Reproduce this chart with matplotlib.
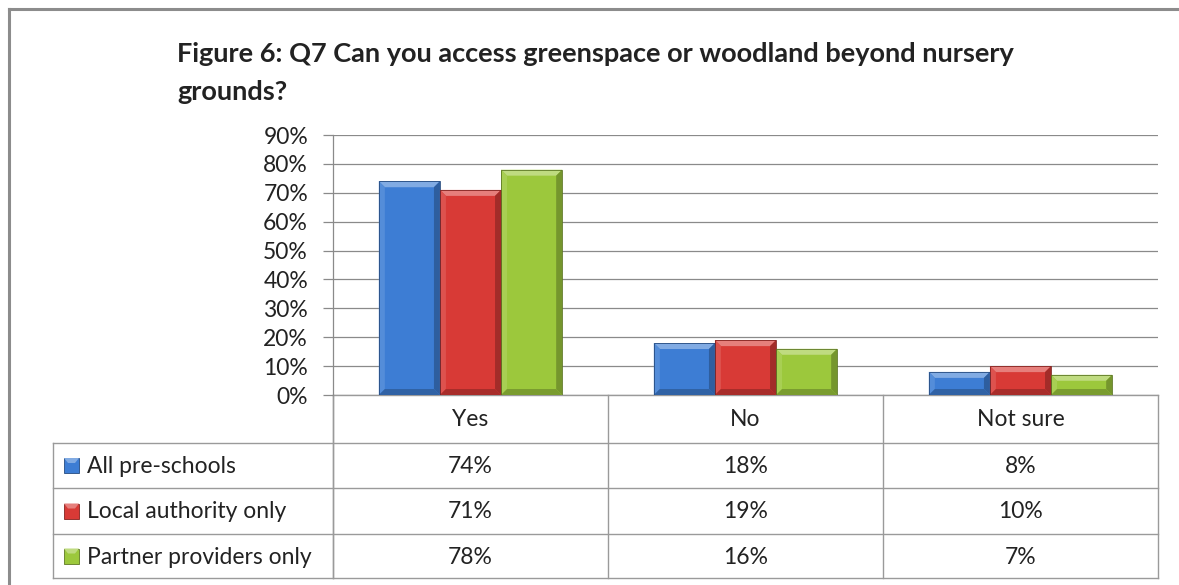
import numpy as np
import matplotlib

matplotlib.use("Agg")
import matplotlib.pyplot as plt
from matplotlib.patches import Polygon, Rectangle
from matplotlib.ticker import FuncFormatter

categories = ["Yes", "No", "Not sure"]
series_names = ["All pre-schools", "Local authority only", "Partner providers only"]
all_preschools = [74, 18, 8]
local_authority = [71, 19, 10]
partner_providers = [78, 16, 7]
series_colors = ["#3d7dd4", "#d83a36", "#9cc83c"]
y_ticks = [0, 10, 20, 30, 40, 50, 60, 70, 80, 90]
title = "Figure 6: Q7 Can you access greenspace or woodland beyond nursery\ngrounds?"

W, H = 1179, 585
FONT = "Lato"
TEXT = "#222222"
GRID = "#8a8a8a"
FS = 16.5


def mix(color, other, amount):
    c = np.array(matplotlib.colors.to_rgb(color))
    o = np.array(matplotlib.colors.to_rgb(other))
    return tuple(c * (1 - amount) + o * amount)


def px_box(x0, y0, x1, y1):
    # pixel box (top-left origin) -> figure fraction rect
    return [x0 / W, 1 - y1 / H, (x1 - x0) / W, (y1 - y0) / H]


def bevel_bar(ax, x0, x1, top, color, dx, dy):
    ax.add_patch(Rectangle((x0, 0), x1 - x0, top, facecolor=color, edgecolor="none", zorder=3))
    d_y = min(dy, top / 3)
    faces = [
        ([(x0, top), (x1, top), (x1 - dx, top - d_y), (x0 + dx, top - d_y)], mix(color, "white", 0.35)),
        ([(x0, 0), (x0, top), (x0 + dx, top - d_y), (x0 + dx, d_y)], mix(color, "white", 0.12)),
        ([(x1, 0), (x1, top), (x1 - dx, top - d_y), (x1 - dx, d_y)], mix(color, "black", 0.25)),
        ([(x0, 0), (x1, 0), (x1 - dx, d_y), (x0 + dx, d_y)], mix(color, "black", 0.22)),
    ]
    for pts, fc in faces:
        ax.add_patch(Polygon(pts, closed=True, facecolor=fc, edgecolor="none", zorder=4))
    ax.add_patch(Rectangle((x0, 0), x1 - x0, top, facecolor="none",
                           edgecolor=mix(color, "black", 0.4), linewidth=0.6, zorder=5))


def main():
    fig = plt.figure(figsize=(W / 100, H / 100), dpi=100)
    fig.patch.set_facecolor("white")

    # outer chart frame, running off the right and bottom edges
    frame = fig.add_axes([0, 0, 1, 1])
    frame.set_xlim(0, W)
    frame.set_ylim(H, 0)
    frame.axis("off")
    frame.plot([9, W + 5], [9, 9], color="#8c8c8c", lw=2.2)
    frame.plot([9, 9], [9, H + 5], color="#8c8c8c", lw=2.2)

    fig.text(177 / W, 1 - 42 / H, title, ha="left", va="top", fontsize=19.5,
             fontweight="bold", family=FONT, color=TEXT, linespacing=1.7)

    left, right, y_zero, y_top = 333, 1158, 395, 135
    ax = fig.add_axes(px_box(left, y_top, right, y_zero))
    ax.set_xlim(-0.5, len(categories) - 0.5)
    ax.set_ylim(0, 90)
    ax.set_yticks(y_ticks)
    ax.yaxis.set_major_formatter(FuncFormatter(lambda v, _: f"{v:.0f}%"))
    ax.tick_params(axis="y", length=7, width=0.9, color=GRID, pad=11, labelsize=FS, labelcolor=TEXT)
    ax.set_xticks([])
    for lbl in ax.get_yticklabels():
        lbl.set_family(FONT)
    ax.grid(axis="y", color=GRID, lw=0.9, zorder=0)
    for side in ["top", "right", "bottom"]:
        ax.spines[side].set_visible(False)
    ax.spines["left"].set_color(GRID)
    ax.spines["left"].set_linewidth(0.9)
    ax.set_facecolor("none")

    values = [all_preschools, local_authority, partner_providers]
    bar_w = 1.0 / (len(series_names) + 1.5)
    dx = 6 * (len(categories) / (right - left))
    dy = 6 * (90 / (y_zero - y_top))
    x = np.arange(len(categories))
    for i, (vals, color) in enumerate(zip(values, series_colors)):
        for xc, v in zip(x, vals):
            x0 = xc - 1.5 * bar_w + i * bar_w
            bevel_bar(ax, x0, x0 + bar_w, v, color, dx, dy)

    # data table under the plot
    col_w = (right - left) / len(categories)
    rows = [395, 443, 488, 534, 578]
    tl = 53
    lc = "#9a9a9a"
    frame.plot([left, right], [rows[0], rows[0]], color=lc, lw=1)
    for r in rows[1:]:
        frame.plot([tl, right], [r, r], color=lc, lw=1)
    frame.plot([tl, tl], [rows[1], rows[-1]], color=lc, lw=1)
    for k in range(len(categories) + 1):
        xk = left + k * col_w
        frame.plot([xk, xk], [rows[0], rows[-1]], color=lc, lw=1)
    frame.plot([left, left], [y_zero, rows[-1]], color=lc, lw=1)

    for k, cat in enumerate(categories):
        frame.text(left + (k + 0.5) * col_w, (rows[0] + rows[1]) / 2 + 1, cat, ha="center",
                   va="center", fontsize=FS, family=FONT, color=TEXT)
    for j, (name, vals, color) in enumerate(zip(series_names, values, series_colors)):
        yc = (rows[j + 1] + rows[j + 2]) / 2
        kx, ks = 64, 15
        frame.add_patch(Rectangle((kx, yc - ks / 2), ks, ks, facecolor=color,
                                  edgecolor=mix(color, "black", 0.4), lw=0.6))
        frame.add_patch(Polygon([(kx, yc - ks / 2), (kx + ks, yc - ks / 2),
                                 (kx + ks - 4, yc - ks / 2 + 5), (kx + 4, yc - ks / 2 + 5)],
                                closed=True, facecolor=mix(color, "white", 0.35), edgecolor="none"))
        frame.text(87, yc + 1, name, ha="left", va="center", fontsize=FS, family=FONT, color=TEXT)
        for k, v in enumerate(vals):
            frame.text(left + (k + 0.5) * col_w, yc + 1, f"{v}%", ha="center", va="center",
                       fontsize=FS, family=FONT, color=TEXT)

    fig.savefig("out.png", dpi=100)
    plt.close(fig)


if __name__ == "__main__":
    main()
